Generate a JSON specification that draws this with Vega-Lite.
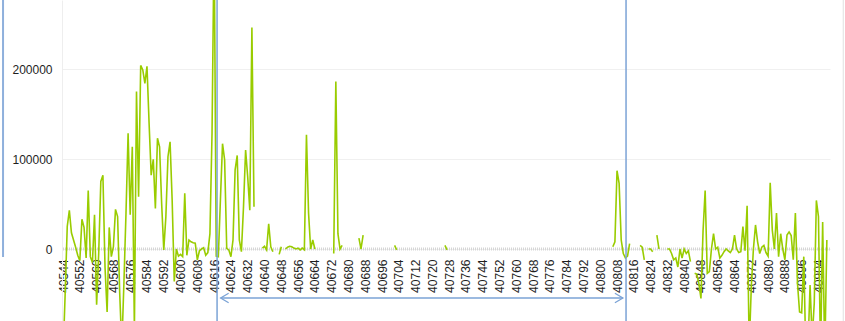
{
  "$schema": "https://vega.github.io/schema/vega-lite/v6.json",
  "width": 768,
  "height": 321,
  "autosize": {"type": "none"},
  "padding": {"left": 62, "top": 0, "right": 15, "bottom": 0},
  "background": "white",
  "config": {
    "view": {"stroke": null},
    "font": "Liberation Sans",
    "axisX": {"labelOverlap": false, "labelFlush": false, "labelBound": false, "labelAngle": 270, "ticks": false, "domain": false, "grid": false, "offset": -72, "labelPadding": 10, "labelFontSize": 12, "labelColor": "#1e1e1e", "tickCount": 100},
    "axisY": {"labelOverlap": false, "ticks": false, "labelFontSize": 12, "labelColor": "#1e1e1e", "labelPadding": 10, "domainColor": "#eeeeee", "gridColor": "#f0f0f0"}
  },
  "datasets": {
    "series": [
      {"day": 40544, "value": -120000}, {"day": 40545, "value": -50000}, {"day": 40546, "value": 25000}, {"day": 40547, "value": 43000},
      {"day": 40548, "value": 18000}, {"day": 40549, "value": 10000}, {"day": 40550, "value": 2000}, {"day": 40551, "value": -7000},
      {"day": 40552, "value": -13000}, {"day": 40553, "value": 33000}, {"day": 40554, "value": 24000}, {"day": 40555, "value": -10000},
      {"day": 40556, "value": 65000}, {"day": 40557, "value": -8500}, {"day": 40558, "value": -15000}, {"day": 40559, "value": 38000},
      {"day": 40560, "value": -62000}, {"day": 40561, "value": -4000}, {"day": 40562, "value": 75000}, {"day": 40563, "value": 82000},
      {"day": 40564, "value": -20000}, {"day": 40565, "value": -70000}, {"day": 40566, "value": 24000}, {"day": 40567, "value": -8500},
      {"day": 40568, "value": 2500}, {"day": 40569, "value": 44000}, {"day": 40570, "value": 36000}, {"day": 40571, "value": -49000},
      {"day": 40572, "value": -110000}, {"day": 40573, "value": -38000}, {"day": 40574, "value": 40000}, {"day": 40575, "value": 128500},
      {"day": 40576, "value": 38000}, {"day": 40577, "value": 113600}, {"day": 40578, "value": -90000}, {"day": 40579, "value": 175000},
      {"day": 40580, "value": 58000}, {"day": 40581, "value": 204000}, {"day": 40582, "value": 199000}, {"day": 40583, "value": 184000},
      {"day": 40584, "value": 203000}, {"day": 40585, "value": 140000}, {"day": 40586, "value": 82000}, {"day": 40587, "value": 99600},
      {"day": 40588, "value": 45000}, {"day": 40589, "value": 123000}, {"day": 40590, "value": 113600}, {"day": 40591, "value": 50000},
      {"day": 40592, "value": -1000}, {"day": 40593, "value": 36000}, {"day": 40594, "value": 102500}, {"day": 40595, "value": 119000},
      {"day": 40596, "value": 54000}, {"day": 40597, "value": -36000}, {"day": 40598, "value": 0}, {"day": 40599, "value": -8000},
      {"day": 40600, "value": -6000}, {"day": 40601, "value": -8500}, {"day": 40602, "value": 62000}, {"day": 40603, "value": -7000},
      {"day": 40604, "value": 10000}, {"day": 40605, "value": 8000}, {"day": 40606, "value": 7000}, {"day": 40607, "value": 6500},
      {"day": 40608, "value": -12000}, {"day": 40609, "value": -2000}, {"day": 40610, "value": 0}, {"day": 40611, "value": 1500},
      {"day": 40612, "value": -7000}, {"day": 40613, "value": -4000}, {"day": 40614, "value": 17000}, {"day": 40615, "value": 128500},
      {"day": 40616, "value": 350000}, {"day": 40617, "value": -8000}, {"day": 40618, "value": -8500}, {"day": 40619, "value": 55000},
      {"day": 40620, "value": 117000}, {"day": 40621, "value": 99000}, {"day": 40622, "value": 700}, {"day": 40623, "value": -1000},
      {"day": 40624, "value": -8500}, {"day": 40625, "value": 10000}, {"day": 40626, "value": 88000}, {"day": 40627, "value": 104000},
      {"day": 40628, "value": 10000}, {"day": 40629, "value": -3000}, {"day": 40630, "value": 47000}, {"day": 40631, "value": 110000},
      {"day": 40632, "value": 80000}, {"day": 40633, "value": 43000}, {"day": 40634, "value": 246000}, {"day": 40635, "value": 47000},
      {"day": 40636, "value": null},
      {"day": 40639, "value": 1000}, {"day": 40640, "value": 3000}, {"day": 40641, "value": -1000}, {"day": 40642, "value": 28000},
      {"day": 40643, "value": 2500}, {"day": 40644, "value": -3000}, {"day": 40645, "value": null},
      {"day": 40647, "value": -6000}, {"day": 40648, "value": 2500}, {"day": 40649, "value": null},
      {"day": 40650, "value": 0}, {"day": 40651, "value": 2000}, {"day": 40652, "value": 3000}, {"day": 40653, "value": 2500},
      {"day": 40654, "value": 1000}, {"day": 40655, "value": 0}, {"day": 40656, "value": 1000}, {"day": 40657, "value": -1000},
      {"day": 40658, "value": 1000}, {"day": 40659, "value": -1000}, {"day": 40660, "value": 127000}, {"day": 40661, "value": 40000},
      {"day": 40662, "value": 0}, {"day": 40663, "value": 10000}, {"day": 40664, "value": 0}, {"day": 40665, "value": null},
      {"day": 40673, "value": -5000}, {"day": 40674, "value": 186000}, {"day": 40675, "value": 17000}, {"day": 40676, "value": 0},
      {"day": 40677, "value": 4000}, {"day": 40678, "value": null},
      {"day": 40685, "value": 12000}, {"day": 40686, "value": 0}, {"day": 40687, "value": 15500}, {"day": 40688, "value": null},
      {"day": 40702, "value": 4000}, {"day": 40703, "value": -1000}, {"day": 40704, "value": null},
      {"day": 40726, "value": 4000}, {"day": 40727, "value": -1000}, {"day": 40728, "value": null},
      {"day": 40806, "value": 2500}, {"day": 40807, "value": 8000}, {"day": 40808, "value": 87000}, {"day": 40809, "value": 73000},
      {"day": 40810, "value": 10000}, {"day": 40811, "value": -5000}, {"day": 40812, "value": -10000}, {"day": 40813, "value": -8000},
      {"day": 40814, "value": 6000}, {"day": 40815, "value": null},
      {"day": 40819, "value": 4000}, {"day": 40820, "value": 2000}, {"day": 40821, "value": -12000}, {"day": 40822, "value": null},
      {"day": 40823, "value": 0}, {"day": 40824, "value": 0}, {"day": 40825, "value": -3000}, {"day": 40826, "value": null},
      {"day": 40827, "value": 15500}, {"day": 40828, "value": 0}, {"day": 40829, "value": null},
      {"day": 40832, "value": 0}, {"day": 40833, "value": 0}, {"day": 40834, "value": -5000}, {"day": 40835, "value": -12000},
      {"day": 40836, "value": -10000}, {"day": 40837, "value": -20000}, {"day": 40838, "value": 0}, {"day": 40839, "value": -10000},
      {"day": 40840, "value": 0}, {"day": 40841, "value": -5000}, {"day": 40842, "value": -2000}, {"day": 40843, "value": -14000},
      {"day": 40844, "value": null},
      {"day": 40845, "value": -27000}, {"day": 40846, "value": -28000}, {"day": 40847, "value": -38000}, {"day": 40848, "value": -55000},
      {"day": 40849, "value": 20000}, {"day": 40850, "value": 65000}, {"day": 40851, "value": -27000}, {"day": 40852, "value": -25000},
      {"day": 40853, "value": 0}, {"day": 40854, "value": 17000}, {"day": 40855, "value": 0}, {"day": 40856, "value": 2000},
      {"day": 40857, "value": -10000}, {"day": 40858, "value": -7000}, {"day": 40859, "value": -3000}, {"day": 40860, "value": 0},
      {"day": 40861, "value": -2000}, {"day": 40862, "value": -4000}, {"day": 40863, "value": 0}, {"day": 40864, "value": 15500},
      {"day": 40865, "value": 0}, {"day": 40866, "value": -4000}, {"day": 40867, "value": -3000}, {"day": 40868, "value": 24800},
      {"day": 40869, "value": -2000}, {"day": 40870, "value": 48000}, {"day": 40871, "value": -110000}, {"day": 40872, "value": -42000},
      {"day": 40873, "value": 0}, {"day": 40874, "value": 26700}, {"day": 40875, "value": 8000}, {"day": 40876, "value": -5000},
      {"day": 40877, "value": 2000}, {"day": 40878, "value": 4000}, {"day": 40879, "value": -4000}, {"day": 40880, "value": -8000},
      {"day": 40881, "value": 73700}, {"day": 40882, "value": 21000}, {"day": 40883, "value": 0}, {"day": 40884, "value": 40000},
      {"day": 40885, "value": -8500}, {"day": 40886, "value": 17000}, {"day": 40887, "value": 0}, {"day": 40888, "value": -12000},
      {"day": 40889, "value": 15500}, {"day": 40890, "value": 19000}, {"day": 40891, "value": 15000}, {"day": 40892, "value": -12000},
      {"day": 40893, "value": 40000}, {"day": 40894, "value": -38000}, {"day": 40895, "value": -70000}, {"day": 40896, "value": -71000},
      {"day": 40897, "value": -8500}, {"day": 40898, "value": -120000}, {"day": 40899, "value": -110000}, {"day": 40900, "value": -40000},
      {"day": 40901, "value": -100000}, {"day": 40902, "value": -60000}, {"day": 40903, "value": 54000}, {"day": 40904, "value": 36000},
      {"day": 40905, "value": -120000}, {"day": 40906, "value": 30000}, {"day": 40907, "value": -120000}, {"day": 40908, "value": 10000}
    ],
    "one": [{}]
  },
  "layer": [
    {
      "data": {"name": "one"},
      "mark": {"type": "rule", "stroke": "#d6d6d6", "strokeWidth": 3, "strokeDash": [1, 1]},
      "encoding": {"y": {"datum": 0, "type": "quantitative"}}
    },
    {
      "data": {"name": "series"},
      "mark": {"type": "line", "color": "#99cc00", "strokeWidth": 1.6, "clip": true, "invalid": "break-paths-filter-domains"},
      "encoding": {
        "x": {
          "field": "day", "type": "quantitative",
          "scale": {"domain": [40543.5, 40909.5], "nice": false, "zero": false},
          "axis": {
            "title": null,
            "values": [40544,40552,40560,40568,40576,40584,40592,40600,40608,40616,40624,40632,40640,40648,40656,40664,40672,40680,40688,40696,40704,40712,40720,40728,40736,40744,40752,40760,40768,40776,40784,40792,40800,40808,40816,40824,40832,40840,40848,40856,40864,40872,40880,40888,40896,40904],
            "format": "d", "labelOverlap": false, "tickCount": 100
          }
        },
        "y": {
          "field": "value", "type": "quantitative",
          "scale": {"domain": [-80000, 276667], "nice": false, "zero": false},
          "axis": {"title": null, "values": [0, 100000, 200000], "format": "d", "grid": true, "domain": true}
        }
      }
    },
    {
      "data": {"name": "one"},
      "mark": {"type": "rule", "stroke": "#7ba3d6", "strokeWidth": 1.5},
      "encoding": {"x": {"datum": 40617.4, "type": "quantitative"}}
    },
    {
      "data": {"name": "one"},
      "mark": {"type": "rule", "stroke": "#7ba3d6", "strokeWidth": 1.5},
      "encoding": {"x": {"datum": 40812.3, "type": "quantitative"}}
    },
    {
      "data": {"name": "one"},
      "mark": {"type": "rule", "stroke": "#8fb0dc", "strokeWidth": 2, "clip": false},
      "encoding": {"x": {"datum": 40515.4, "type": "quantitative"}, "y": {"datum": 276667, "type": "quantitative"}, "y2": {"datum": -8900}}
    },
    {
      "data": {"name": "one"},
      "mark": {"type": "rule", "stroke": "#e0e0e0", "strokeWidth": 1, "clip": false},
      "encoding": {"x": {"datum": 40915.8, "type": "quantitative"}}
    },
    {
      "data": {"name": "one"},
      "mark": {"type": "rule", "stroke": "#7ba3d6", "strokeWidth": 1.3},
      "encoding": {"x": {"datum": 40619.1, "type": "quantitative"}, "x2": {"datum": 40810.8}, "y": {"datum": -54444, "type": "quantitative"}}
    },
    {
      "data": {"name": "one"},
      "mark": {"type": "point", "shape": "M1,-0.6L0,0L1,0.6", "size": 256, "filled": false, "stroke": "#7ba3d6", "strokeWidth": 1.3, "opacity": 1},
      "encoding": {"x": {"datum": 40619.1, "type": "quantitative"}, "y": {"datum": -54444, "type": "quantitative"}}
    },
    {
      "data": {"name": "one"},
      "mark": {"type": "point", "shape": "M-1,-0.6L0,0L-1,0.6", "size": 256, "filled": false, "stroke": "#7ba3d6", "strokeWidth": 1.3, "opacity": 1},
      "encoding": {"x": {"datum": 40810.8, "type": "quantitative"}, "y": {"datum": -54444, "type": "quantitative"}}
    }
  ]
}
